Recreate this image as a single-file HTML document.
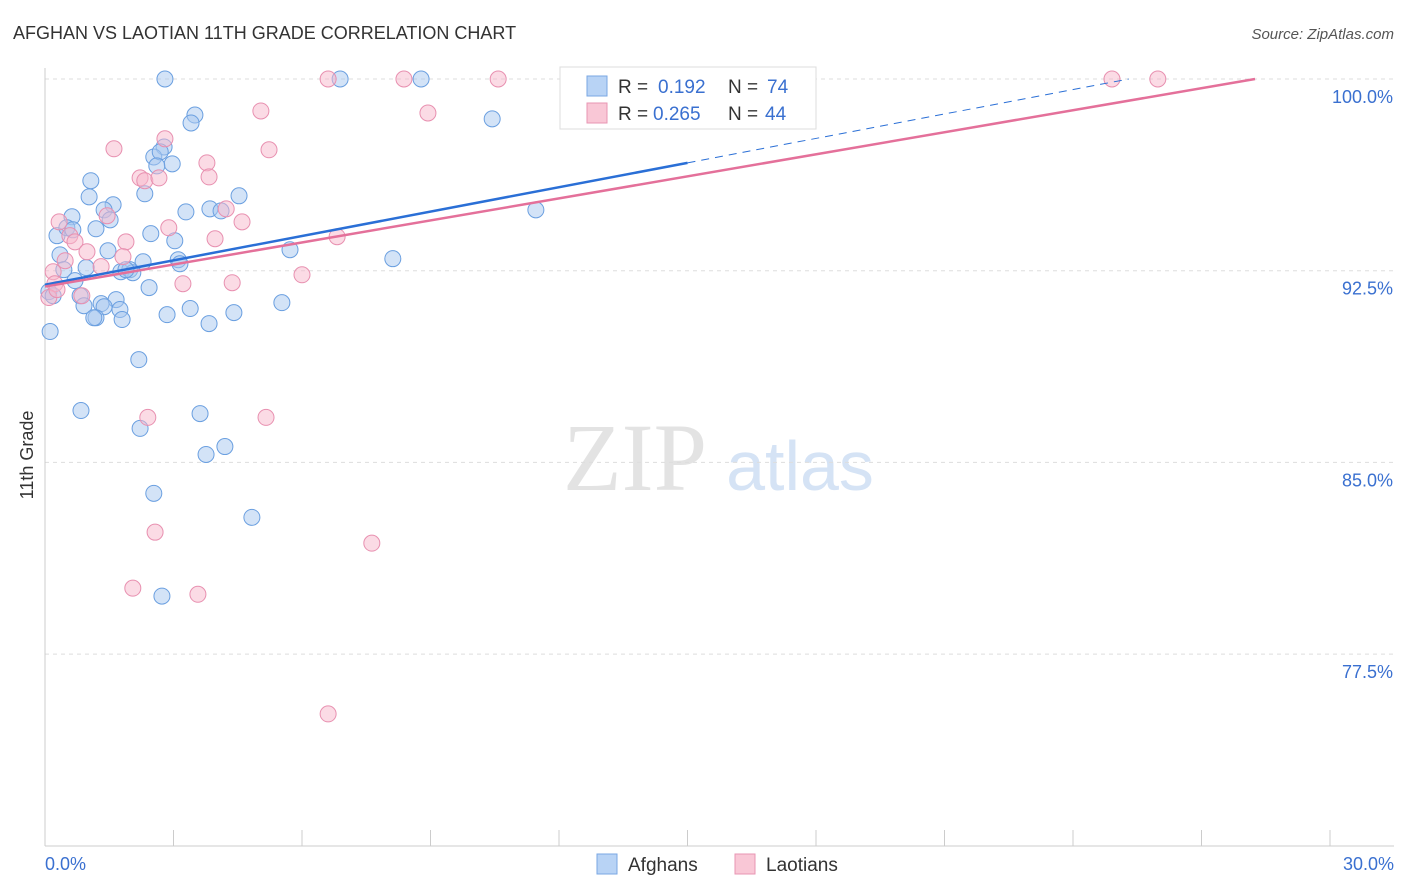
<!DOCTYPE html>
<html><head><meta charset="utf-8">
<style>
body{margin:0;background:#fff;font-family:"Liberation Sans",sans-serif;}
svg{display:block}
</style></head>
<body>
<svg id="chart" width="1406" height="892">
<text x="13" y="39" font-size="18" fill="#333">AFGHAN VS LAOTIAN 11TH GRADE CORRELATION CHART</text>
<text x="1394" y="39" font-size="15" fill="#555" font-style="italic" text-anchor="end">Source: ZipAtlas.com</text>
<text x="33" y="455" font-size="18" fill="#333" transform="rotate(-90 33 455)" text-anchor="middle">11th Grade</text>
<g>
<text x="635" y="490" font-size="96" font-family="Liberation Serif,serif" fill="#e3e3e3" text-anchor="middle">ZIP</text>
<text x="800" y="490" font-size="70" fill="#d5e3f5" text-anchor="middle">atlas</text>
</g>
<g id="grid"></g>
<g id="axes"></g>
<g id="pts"></g>
<g id="lines"></g>
<g>
<rect x="560" y="67" width="256" height="62" fill="#fff" stroke="#ddd"/>
<rect x="587" y="76" width="20" height="20" fill="#b8d3f5" stroke="#7aa7e3"/>
<text x="618" y="93" font-size="19" fill="#333">R = </text><text x="658" y="93" font-size="19" fill="#3a70d0">0.192</text>
<text x="728" y="93" font-size="19" fill="#333">N = </text><text x="767" y="93" font-size="19" fill="#3a70d0">74</text>
<rect x="587" y="103" width="20" height="20" fill="#f9c7d6" stroke="#e896b3"/>
<text x="618" y="120" font-size="19" fill="#333">R = </text><text x="653" y="120" font-size="19" fill="#3a70d0">0.265</text>
<text x="728" y="120" font-size="19" fill="#333">N = </text><text x="765" y="120" font-size="19" fill="#3a70d0">44</text>
</g>
<g>
<rect x="597" y="854" width="20" height="20" fill="#b8d3f5" stroke="#7aa7e3"/>
<text x="628" y="871" font-size="19" fill="#333">Afghans</text>
<rect x="735" y="854" width="20" height="20" fill="#f9c7d6" stroke="#e896b3"/>
<text x="766" y="871" font-size="19" fill="#333">Laotians</text>
</g>
</svg>
<script>
const yTicks=[100,92.5,85,77.5];
const yTickLabels=["100.0%","92.5%","85.0%","77.5%"];
const xTickLabels=["0.0%","30.0%"];
const afgX=[2.80,6.89,8.78,3.50,3.41,10.44,2.78,2.54,2.69,2.97,2.61,1.07,1.03,1.59,2.33,4.53,3.29,3.85,4.11,11.46,0.63,1.38,1.52,0.28,0.51,0.65,1.19,2.47,3.03,1.47,0.35,5.72,8.12,2.29,3.11,3.15,0.44,0.96,1.77,1.98,2.05,1.89,2.43,0.70,0.09,0.19,0.82,0.91,1.66,1.31,1.75,1.38,3.39,2.85,4.41,5.53,1.19,1.80,1.14,3.83,0.12,2.19,0.84,3.62,2.22,4.20,3.76,2.54,4.83,2.73];
const afgY=[100,100,100,98.59,98.28,98.44,97.34,96.95,97.15,96.68,96.60,96.02,95.39,95.08,95.51,95.43,94.80,94.92,94.84,94.88,94.61,94.88,94.49,93.87,94.18,94.10,94.14,93.95,93.67,93.28,93.12,93.32,92.97,92.85,92.93,92.77,92.54,92.62,92.46,92.54,92.42,92.54,91.84,92.11,91.68,91.52,91.52,91.13,91.37,91.21,90.98,91.09,91.02,90.78,90.86,91.25,90.66,90.59,90.66,90.43,90.12,89.02,87.03,86.91,86.33,85.62,85.31,83.79,82.85,79.77];
const laoX=[6.61,8.38,10.58,24.91,25.98,5.04,8.94,2.80,1.61,5.23,3.78,3.83,2.22,2.33,2.66,4.23,4.60,1.45,2.89,0.33,0.58,0.70,1.89,3.97,6.82,0.98,1.82,1.31,0.47,0.19,6.00,0.23,3.22,4.37,0.86,0.09,2.40,5.16,2.57,7.63,2.05,3.57,6.61,0.28];
const laoY=[100,100,100,100,100,98.75,98.67,97.66,97.27,97.23,96.72,96.17,96.13,96.02,96.13,94.92,94.41,94.65,94.18,94.41,93.87,93.63,93.63,93.75,93.83,93.24,93.05,92.66,92.89,92.46,92.34,91.99,91.99,92.03,91.52,91.45,86.76,86.76,82.27,81.84,80.08,79.84,75.16,91.76];
const afgLine=[[0,91.95],[15,96.72],[25.3,100]];
const laoLine=[[0,91.88],[28.25,100]];
const NS="http://www.w3.org/2000/svg";
const sx=v=>45+v/30*1285;
const sy=v=>79+(100-v)/7.5*191.7;
function mk(tag,attrs,parent){const e=document.createElementNS(NS,tag);for(const k in attrs)e.setAttribute(k,attrs[k]);parent.appendChild(e);return e;}
const grid=document.getElementById('grid'),axes=document.getElementById('axes'),pts=document.getElementById('pts'),lines=document.getElementById('lines');
yTicks.forEach((t,i)=>{
 const l=mk('line',{x1:45,x2:1394,y1:sy(t),y2:sy(t),stroke:'#ddd','stroke-dasharray':'4,4'},grid);
 
 
 const tx=mk('text',{x:1393,y:sy(t)+24,'font-size':18,fill:'#3a70d0','text-anchor':'end'},axes);
 tx.textContent=yTickLabels[i];
 
 
});
const ax=mk('line',{x1:45,x2:45,y1:68,y2:846,stroke:'#ccc'},axes);


const bx=mk('line',{x1:45,x2:1394,y1:846,y2:846,stroke:'#ccc'},axes);


for(let i=0;i<=10;i++){const t=mk('line',{x1:sx(i*3),x2:sx(i*3),y1:830,y2:846,stroke:'#ccc'},axes);
 
 }
[[0,'start',45],[30,'end',1394]].forEach((d,i)=>{const t=mk('text',{x:d[2],y:870,'font-size':18,fill:'#3a70d0','text-anchor':d[1]},axes);t.textContent=xTickLabels[i];
 
 });
function dots(X,Y,fill,stroke,name){X.forEach((x,i)=>{const c=mk('circle',{cx:sx(x),cy:sy(Y[i]),r:8,fill:fill,'fill-opacity':0.5,stroke:stroke,'stroke-width':1},pts);
 
 });}
dots(afgX,afgY,'#a8c8f0','#6a9fe0','afghan-point');
dots(laoX,laoY,'#f7b8cc','#e890b0','laotian-point');
const a1=mk('line',{x1:sx(afgLine[0][0]),y1:sy(afgLine[0][1]),x2:sx(afgLine[1][0]),y2:sy(afgLine[1][1]),stroke:'#2a6fd6','stroke-width':2.5},lines);


const a2=mk('line',{x1:sx(afgLine[1][0]),y1:sy(afgLine[1][1]),x2:sx(afgLine[2][0]),y2:sy(afgLine[2][1]),stroke:'#2a6fd6','stroke-width':1,'stroke-dasharray':'8,6'},lines);


const p1=mk('line',{x1:sx(laoLine[0][0]),y1:sy(laoLine[0][1]),x2:sx(laoLine[1][0]),y2:sy(laoLine[1][1]),stroke:'#e4709a','stroke-width':2.5},lines);


</script>
</body></html>
